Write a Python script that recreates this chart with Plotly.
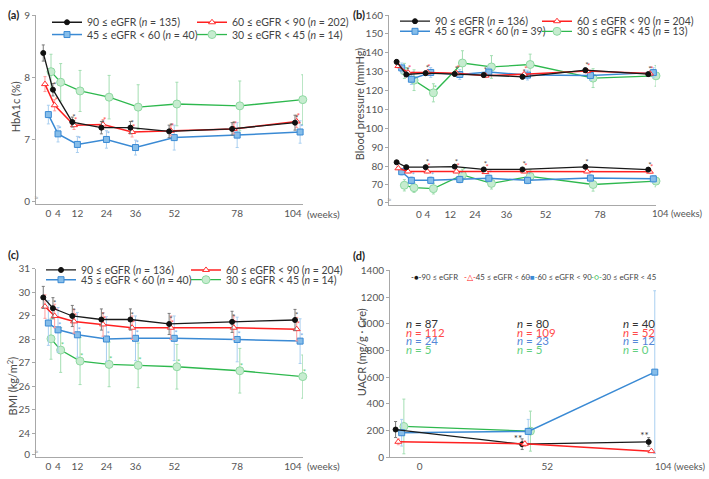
import plotly.graph_objects as go

W, H = 709, 479

# ---------------- data ----------------
weeks = [0, 4, 12, 24, 36, 52, 78, 104]
week_labels = ["0", "4", "12", "24", "36", "52", "78", "104"]
uacr_weeks = [0, 52, 104]

# (a) HbA1c (%)
hba1c_black = [8.39, 7.80, 7.28, 7.19, 7.19, 7.13, 7.17, 7.27]
hba1c_red = [7.89, 7.55, 7.23, 7.24, 7.12, 7.14, 7.17, 7.29]
hba1c_blue = [7.40, 7.09, 6.92, 7.00, 6.87, 7.03, 7.07, 7.12]
hba1c_green = [8.09, 7.92, 7.78, 7.68, 7.52, 7.57, 7.54, 7.64]
hba1c_black_sd = [0.13, 0.10, 0.08, 0.10, 0.10, 0.10, 0.10, 0.12]
hba1c_red_sd = [0.12, 0.09, 0.07, 0.08, 0.08, 0.08, 0.08, 0.10]
hba1c_blue_sd = [0.15, 0.13, 0.13, 0.14, 0.12, 0.20, 0.20, 0.18]
hba1c_green_sd = [0.28, 0.30, 0.33, 0.35, 0.36, 0.35, 0.40, 0.40]

# (b) Blood pressure (mmHg)
sbp_black = [135.2, 128.5, 129.2, 128.8, 128.2, 127.3, 130.8, 128.7]
sbp_red = [133.0, 129.5, 129.6, 129.2, 127.9, 128.6, 130.3, 129.0]
sbp_blue = [132.0, 126.0, 129.6, 128.5, 129.8, 128.2, 128.0, 129.5]
sbp_green = [130.4, 125.5, 118.8, 134.6, 132.5, 133.8, 126.6, 127.8]
dbp_black = [82.0, 79.4, 79.4, 79.7, 78.2, 78.2, 79.6, 78.1]
dbp_red = [78.8, 77.1, 77.1, 77.1, 76.8, 77.1, 77.1, 77.0]
dbp_blue = [77.0, 72.4, 72.4, 72.9, 73.5, 72.4, 73.6, 73.2]
dbp_green = [69.8, 68.5, 68.0, 75.3, 70.8, 74.5, 70.2, 72.0]
sbp_black_sd = [1.2] * 8
sbp_red_sd = [1.0] * 8
sbp_blue_sd = [2.6, 2.8, 2.6, 2.6, 2.6, 2.6, 2.6, 2.6]
sbp_green_sd = [4.0, 5.5, 4.8, 6.5, 6.0, 5.5, 5.0, 5.5]
dbp_black_sd = [0.8] * 8
dbp_red_sd = [0.7] * 8
dbp_blue_sd = [1.8] * 8
dbp_green_sd = [3.0, 2.5, 2.8, 3.0, 3.0, 3.5, 3.5, 3.0]

# (c) BMI (kg/m2)
bmi_black = [29.79, 29.33, 29.00, 28.85, 28.85, 28.66, 28.75, 28.83]
bmi_red = [29.40, 29.00, 28.77, 28.64, 28.50, 28.50, 28.50, 28.44]
bmi_blue = [28.70, 28.41, 28.20, 28.02, 28.05, 28.05, 28.00, 27.93]
bmi_green = [28.03, 27.55, 27.08, 26.94, 26.90, 26.84, 26.67, 26.42]
bmi_black_sd = [0.47, 0.45, 0.45, 0.45, 0.45, 0.45, 0.45, 0.45]
bmi_red_sd = [0.50] * 8
bmi_blue_sd = [0.95] * 8
bmi_green_sd = [0.87, 0.95, 1.00, 0.95, 0.95, 0.95, 0.95, 0.92]

# (d) UACR (mg/g Cre)
uacr_black = [207, 97, 114]
uacr_red = [115, 100, 45]
uacr_blue = [183, 193, 637]
uacr_green = [230, 195, None]
uacr_black_sd = [60, 40, 32]
uacr_red_sd = [22, 20, 6]
uacr_blue_sd = [100, 90, 610]
uacr_green_sd = [205, 150, 0]
n_black = [87, 80, 40]
n_red = [112, 109, 52]
n_blue = [24, 23, 12]
n_green = [5, 5, 0]

# significance flags (1 = asterisk)
sig_a = {"black": [0, 1, 1, 1, 1, 1, 1, 1], "red": [0, 1, 1, 1, 1, 1, 1, 1],
         "blue": [0, 1, 1, 1, 1, 1, 1, 1], "green": [0] * 8}
sig_b_sys = {"black": [0, 1, 1, 1, 1, 1, 1, 1], "red": [0, 1, 1, 1, 0, 1, 1, 1],
             "blue": [0, 1, 0, 0, 0, 0, 0, 0], "green": [0, 0, 1, 0, 0, 0, 0, 0]}
sig_b_dia = {"black": [0, 0, 1, 1, 1, 1, 1, 1], "red": [0, 0, 1, 1, 1, 1, 0, 1],
             "blue": [0, 1, 1, 1, 1, 1, 1, 0], "green": [0, 0, 0, 1, 0, 0, 0, 0]}
sig_c = {k: [0, 1, 1, 1, 1, 1, 1, 1] for k in ["black", "red", "blue", "green"]}
sig_d_black = [0, 1, 1]

legend_a = ["90 ≤ eGFR (<i>n</i> = 135)", "60 ≤ eGFR &lt; 90 (<i>n</i> = 202)",
            "45 ≤ eGFR &lt; 60 (<i>n</i> = 40)", "30 ≤ eGFR &lt; 45 (<i>n</i> = 14)"]
legend_b = ["90 ≤ eGFR (<i>n</i> = 136)", "60 ≤ eGFR &lt; 90 (<i>n</i> = 204)",
            "45 ≤ eGFR &lt; 60 (<i>n</i> = 39)", "30 ≤ eGFR &lt; 45 (<i>n</i> = 13)"]
legend_c = ["90 ≤ eGFR (<i>n</i> = 136)", "60 ≤ eGFR &lt; 90 (<i>n</i> = 204)",
            "45 ≤ eGFR &lt; 60 (<i>n</i> = 40)", "30 ≤ eGFR &lt; 45 (<i>n</i> = 14)"]
legend_d = ["90 ≤ eGFR", "45 ≤ eGFR &lt; 60", "60 ≤ eGFR &lt; 90", "30 ≤ eGFR &lt; 45"]

# ---------------- style ----------------
FONT = "Lato"
TXT = "#4a4a4a"
AX = "#a8a8a8"
ST = {
    "black": dict(line="#1a1a1a", lw=1.3, sym="circle", ms=5, fill="#111111", edge="#111111",
                  err="#7a7a7a", ast="#555555", off=-2.1, offd=-1.8),
    "red": dict(line="#ff2020", lw=1.5, sym="triangle-up", ms=6, fill="#ffffff", edge="#ff3030",
                err="#ff9c9c", ast="#ff5050", off=-1.4, offd=-0.7),
    "blue": dict(line="#3a8ad4", lw=1.5, sym="square", ms=6, fill="#86bde9", edge="#3a8ad4",
                 err="#a9cff0", ast="#78abe4", off=0.0, offd=0.7),
    "green": dict(line="#2eb84e", lw=1.3, sym="circle", ms=8, fill="#c6eccf", edge="#8fd9a2",
                  err="#a3deb2", ast="#5fcf7f", off=1.1, offd=1.6),
}


def px_x(p):
    return p / W


def px_y(p):
    return 1 - p / H


fig = go.Figure()


def add_series(key, xs, ys, sd, xa, ya, sig=None, name=None, legend=None, rank=None,
               off_key="off", lw=None):
    s = ST[key]
    xv = [x + s[off_key] for x in xs]
    kw = {}
    if lw is not None:
        kw["legendwidth"] = lw
    fig.add_trace(go.Scatter(
        x=xv, y=ys, mode="lines+markers", xaxis=xa, yaxis=ya,
        name=name or key, showlegend=name is not None,
        legend=legend or "legend", legendrank=rank or 1000,
        line=dict(color=s["line"], width=s["lw"]),
        marker=dict(symbol=s["sym"], size=s["ms"], color=s["fill"],
                    line=dict(color=s["edge"], width=1)),
        error_y=dict(type="data", array=sd, color=s["err"], thickness=1, width=1.5),
        cliponaxis=False, hoverinfo="skip", connectgaps=False, **kw))
    if sig and any(sig):
        ax_ = [x for x, f in zip(xv, sig) if f]
        ay_ = [y for y, f in zip(ys, sig) if f]
        fig.add_trace(go.Scatter(
            x=ax_, y=ay_, mode="text", text=["*"] * len(ax_), textposition="top right",
            textfont=dict(size=8, color=s["ast"], family=FONT), xaxis=xa, yaxis=ya,
            showlegend=False, cliponaxis=False, hoverinfo="skip"))


order = ["green", "blue", "red", "black"]
idx = {"black": 0, "red": 1, "blue": 2, "green": 3}
rank = {"black": 1, "red": 2, "blue": 1, "green": 2}
lwid = {"black": 100, "blue": 100, "red": 125, "green": 125}

# (a)
a_data = {"black": (hba1c_black, hba1c_black_sd), "red": (hba1c_red, hba1c_red_sd),
          "blue": (hba1c_blue, hba1c_blue_sd), "green": (hba1c_green, hba1c_green_sd)}
for k in order:
    y, sd = a_data[k]
    add_series(k, weeks, y, sd, "x", "y", sig=sig_a[k], name=legend_a[idx[k]],
               legend="legend" if k in ("black", "red") else "legend2", rank=rank[k],
               lw=lwid[k])

# (b)
b_sys = {"black": (sbp_black, sbp_black_sd), "red": (sbp_red, sbp_red_sd),
         "blue": (sbp_blue, sbp_blue_sd), "green": (sbp_green, sbp_green_sd)}
b_dia = {"black": (dbp_black, dbp_black_sd), "red": (dbp_red, dbp_red_sd),
         "blue": (dbp_blue, dbp_blue_sd), "green": (dbp_green, dbp_green_sd)}
lwid_b = {"black": 97, "blue": 97, "red": 126, "green": 126}
for k in order:
    y, sd = b_dia[k]
    add_series(k, weeks, y, sd, "x2", "y2", sig=sig_b_dia[k])
for k in order:
    y, sd = b_sys[k]
    add_series(k, weeks, y, sd, "x2", "y2", sig=sig_b_sys[k], name=legend_b[idx[k]],
               legend="legend3" if k in ("black", "red") else "legend4", rank=rank[k],
               lw=lwid_b[k])

# (c)
c_data = {"black": (bmi_black, bmi_black_sd), "red": (bmi_red, bmi_red_sd),
          "blue": (bmi_blue, bmi_blue_sd), "green": (bmi_green, bmi_green_sd)}
for k in order:
    y, sd = c_data[k]
    add_series(k, weeks, y, sd, "x3", "y3", sig=sig_c[k], name=legend_c[idx[k]],
               legend="legend5" if k in ("black", "red") else "legend6", rank=rank[k],
               lw=lwid[k])

# (d)
d_data = {"black": (uacr_black, uacr_black_sd), "red": (uacr_red, uacr_red_sd),
          "blue": (uacr_blue, uacr_blue_sd), "green": (uacr_green, uacr_green_sd)}
for k in ["green", "blue", "black", "red"]:
    y, sd = d_data[k]
    add_series(k, uacr_weeks, y, sd, "x4", "y4", off_key="offd")
xb = [x + ST["black"]["offd"] for x, f in zip(uacr_weeks, sig_d_black) if f]
yb = [y for y, f in zip(uacr_black, sig_d_black) if f]
fig.add_trace(go.Scatter(x=xb, y=yb, mode="text", text=["**"] * len(xb),
                         textposition="top left", textfont=dict(size=10, color="#333", family=FONT),
                         xaxis="x4", yaxis="y4", showlegend=False, cliponaxis=False,
                         hoverinfo="skip"))

# ---------------- axes ----------------
tick_font = dict(family=FONT, size=10, color="#555")


def xaxis(dom, rng, tv, tt):
    return dict(domain=[px_x(dom[0]), px_x(dom[1])], range=rng, tickvals=tv, ticktext=tt,
                showline=True, linecolor=AX, linewidth=1, ticks="", showgrid=False,
                zeroline=False, tickfont=tick_font, fixedrange=True)


def yaxis(dom, rng, tv, tt, anchor):
    return dict(domain=[px_y(dom[1]), px_y(dom[0])], range=rng, tickvals=tv, ticktext=tt,
                showline=True, linecolor=AX, linewidth=1, ticks="outside", ticklen=3,
                tickcolor=AX, showgrid=False, zeroline=False, tickfont=tick_font,
                anchor=anchor, fixedrange=True)


ac_tick_pos = [0, 4, 12, 24, 36, 52, 78, 101]
b_tick_pos = [7.1, 10.6, 20.1, 30.3, 43.3, 59.4, 82.0]
d_tick_pos = [8.1, 60.5]

fig.update_layout(
    xaxis=xaxis((36, 303), [-5.1, 105.2], ac_tick_pos, week_labels) | dict(anchor="y"),
    yaxis=yaxis((8.3, 202), [5.97, 9.0], [6, 7, 8, 9], ["0", "7", "8", "9"], "x"),
    xaxis2=xaxis((389, 656), [-5.25, 105.1], b_tick_pos, week_labels[:7]) | dict(anchor="y2"),
    yaxis2=yaxis((8.3, 204), [59.1, 160], [60.5] + list(range(70, 161, 10)),
                 ["0"] + [str(v) for v in range(70, 161, 10)], "x2"),
    xaxis3=xaxis((36, 303), [-5.1, 105.2], ac_tick_pos, week_labels) | dict(anchor="y3"),
    yaxis3=yaxis((269.3, 463), [22.98, 31], [23.1, 24, 25, 26, 27, 28, 29, 30, 31],
                 ["0", "24", "25", "26", "27", "28", "29", "30", "31"], "x3"),
    xaxis4=xaxis((390, 656), [-4.1, 105.2], d_tick_pos, ["0", "52"]) | dict(anchor="y4"),
    yaxis4=yaxis((270.7, 462.7), [0, 1400], list(range(0, 1401, 200)),
                 [str(v) for v in range(0, 1401, 200)], "x4"),
)

# ---------------- legends ----------------
leg_font = dict(family=FONT, size=10.5, color="#444")


def leg(xp, yp, ew):
    return dict(orientation="h", x=px_x(xp), y=px_y(yp), xanchor="left", yanchor="middle",
                entrywidth=ew, entrywidthmode="pixels", font=leg_font,
                bgcolor="rgba(0,0,0,0)", itemclick=False, itemdoubleclick=False,
                traceorder="normal", tracegroupgap=0)


fig.update_layout(
    legend=leg(47, 15.7, 100), legend2=leg(47, 28.3, 100),
    legend3=leg(395, 14.6, 97), legend4=leg(395, 25.0, 97),
    legend5=leg(41, 270.3, 100), legend6=leg(41, 280.3, 100),
)

# ---------------- annotations ----------------
ann = []


def txt(x, y, s, size=11, color=TXT, xanchor="center", angle=0, bold=False, **kw):
    ann.append(dict(x=px_x(x), y=px_y(y), xref="paper", yref="paper",
                    text=f"<b>{s}</b>" if bold else s,
                    showarrow=False, xanchor=xanchor, yanchor="middle", textangle=angle,
                    font=dict(family=FONT, size=size, color=color), **kw))


# panel labels
txt(6, 8, "(a)", size=11, color="#222", xanchor="left", bold=True)
txt(351, 8, "(b)", size=11, color="#222", xanchor="left", bold=True)
txt(6, 254, "(c)", size=11, color="#222", xanchor="left", bold=True)
txt(351, 255, "(d)", size=11, color="#222", xanchor="left", bold=True)
# axis titles
txt(15, 102, "HbA1c (%)", angle=-90)
txt(359, 100, "Blood pressure (mmHg)", angle=-90)
txt(12, 390, "BMI (kg/m<sup>2</sup>)", angle=-90)
txt(361, 355, "UACR (mg/g · Cre)", angle=-90)
# weeks labels
txt(305, 213, "(weeks)", size=10, color="#555", xanchor="left")
txt(305, 471.5, "(weeks)", size=10, color="#555", xanchor="left")
txt(650, 212, "104 (weeks)", size=9.5, color="#555", xanchor="left")
txt(653, 472.5, "104 (weeks)", size=9.5, color="#555", xanchor="left")
# axis break marks
for bx, by in [(36.5, 195), (389.5, 197), (36.5, 456)]:
    txt(bx, by, "≈", size=8, color="#999")

# panel d legend (compact)
d_leg_x = [409, 462, 525, 589]
d_glyph = {"black": "-●-", "red": "-△-", "blue": "-■-", "green": "-○-"}
for k, lx, lab in zip(["black", "red", "blue", "green"], d_leg_x, legend_d):
    txt(lx, 277.3, f'<span style="color:{ST[k]["line"]}">{d_glyph[k]}</span>{lab}',
        size=7.8, color="#444", xanchor="left")

# n counts in panel d
n_label_x = [1.6, 47.3, 90.7]
n_rows = [(n_black, "#333333", 1002), (n_red, "#ff4a4a", 937), (n_blue, "#5588d8", 873),
          (n_green, "#62cf80", 808)]
for vals, col, yv in n_rows:
    for xv, v in zip(n_label_x, vals):
        ann.append(dict(x=xv, y=yv, xref="x4", yref="y4", text=f"<i>n</i> = {v}",
                        showarrow=False, xanchor="left", yanchor="middle",
                        font=dict(family=FONT, size=11.5, color=col)))

fig.update_layout(
    annotations=ann,
    width=W, height=H, margin=dict(l=0, r=0, t=0, b=0),
    paper_bgcolor="white", plot_bgcolor="white",
    font=dict(family=FONT, color=TXT),
    hovermode=False,
)

fig.write_html("out.html", config={"displayModeBar": False},
               post_script="document.body.style.margin='0';document.body.style.overflow='hidden';")
